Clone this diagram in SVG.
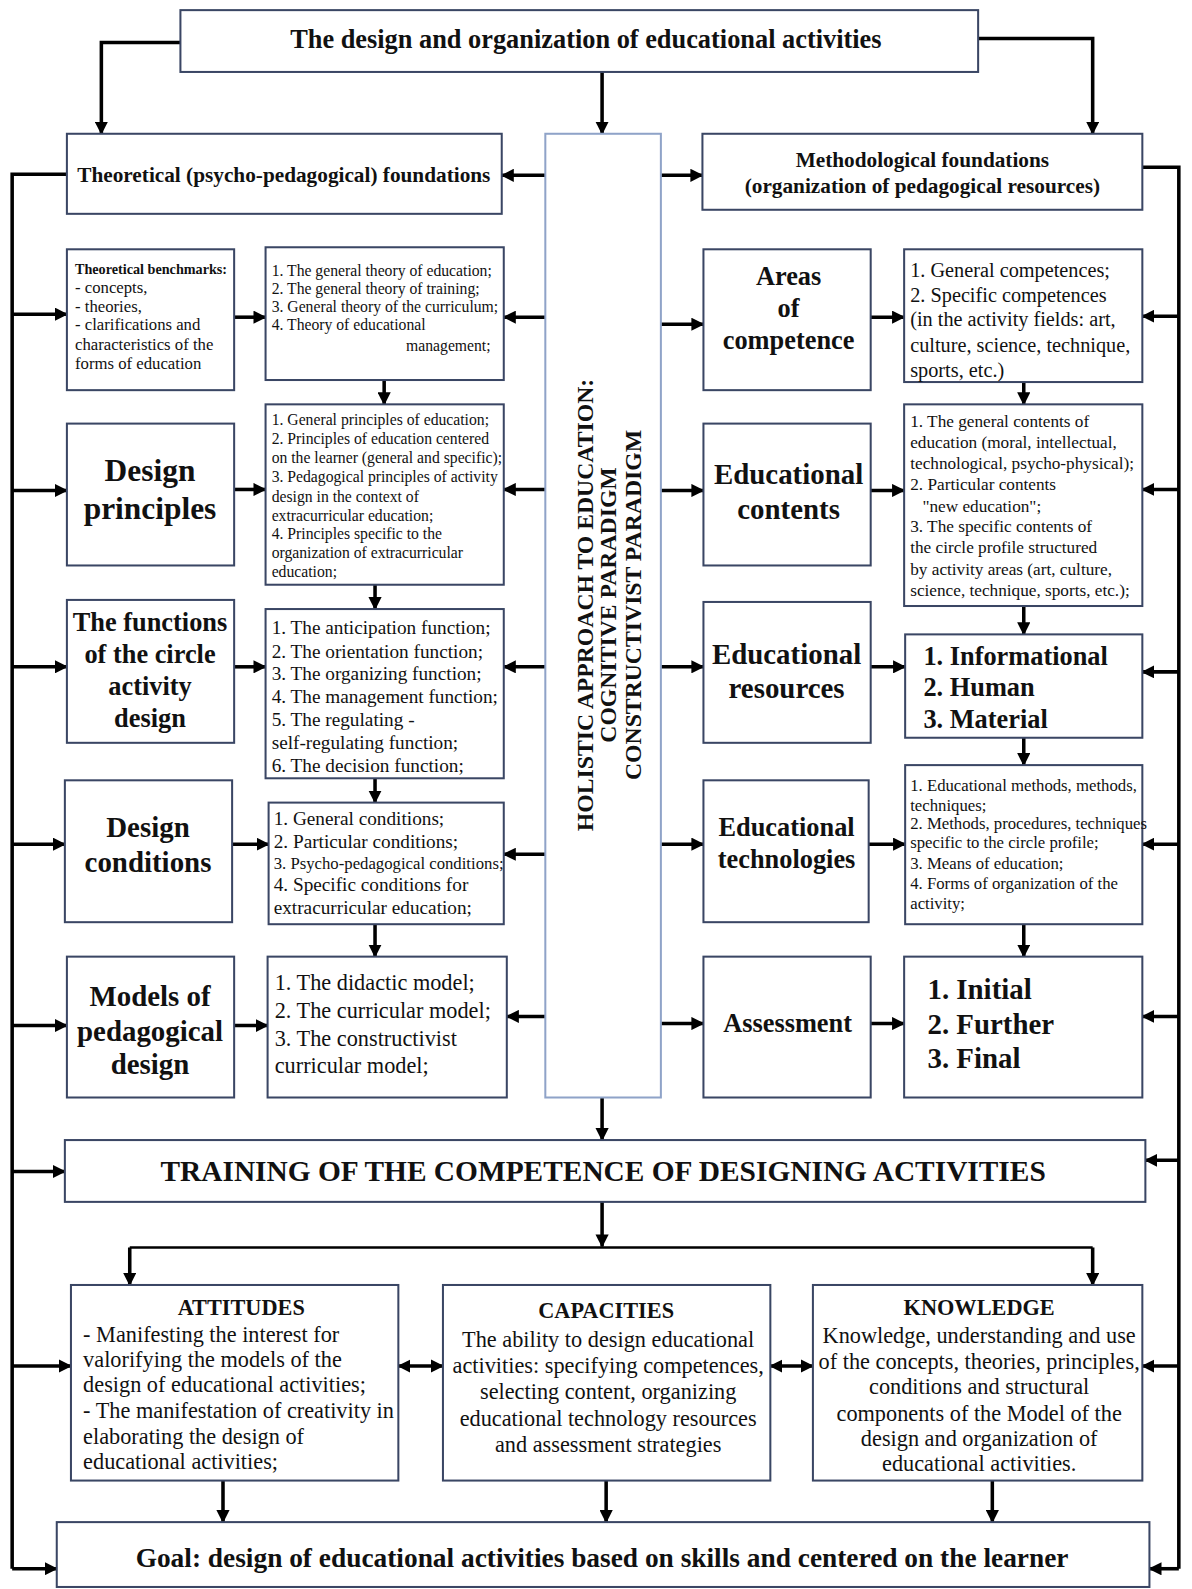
<svg xmlns="http://www.w3.org/2000/svg" width="1192" height="1589" viewBox="0 0 1192 1589">
<defs>
<style>
.box{fill:#fff;stroke:#3a4664;stroke-width:2}
.cbox{fill:#fff;stroke:#8fa3c8;stroke-width:2}
text{font-family:"Liberation Serif","Times New Roman",serif;fill:#111}
.b{font-weight:bold}
.c{text-anchor:middle}
.e{text-anchor:end}
.ln{stroke:#000;stroke-width:3.5;fill:none;marker-end:url(#ah)}
.dl{stroke:#000;stroke-width:3.5;fill:none;marker-end:url(#ah);marker-start:url(#ah)}
.bus{stroke:#000;stroke-width:3.5;fill:none}
.s14{font-size:14px}.s155{font-size:15.5px}.s165{font-size:16.5px}.s17{font-size:17px}.s19{font-size:19px}.s20{font-size:20px}.s21{font-size:21px}.s22{font-size:22px}.s26{font-size:26px}.s27{font-size:27px}.s28{font-size:28.5px}.s29{font-size:29px}.s31{font-size:31px}
</style>
<marker id="ah" viewBox="0 0 12 12" refX="11" refY="6" markerWidth="13" markerHeight="13" markerUnits="userSpaceOnUse" orient="auto-start-reverse"><path d="M0,0 L12,6 L0,12 z" fill="#000"/></marker>
</defs>
<rect width="1192" height="1589" fill="#fff"/>
<g transform="scale(1.01361 1.01339)">
<g id="connectors">
<path class="ln" d="M178,42 H100 V132"/>
<path class="ln" d="M594,71 V132"/>
<path class="ln" d="M965,38 H1078 V132"/>
<path class="ln" d="M538,173 H495"/>
<path class="ln" d="M652,173 H693"/>
<path class="bus" d="M66,172 H12 V1548"/>
<path class="bus" d="M1127,165 H1163 V1548"/>
<path class="ln" d="M12,310 H66"/>
<path class="ln" d="M231,313 H262"/>
<path class="ln" d="M538,313 H497"/>
<path class="ln" d="M379,375 V399"/>
<path class="ln" d="M12,484 H66"/>
<path class="ln" d="M231,483 H262"/>
<path class="ln" d="M538,483 H497"/>
<path class="ln" d="M370,577 V601"/>
<path class="ln" d="M12,658 H66"/>
<path class="ln" d="M231,658 H262"/>
<path class="ln" d="M538,658 H497"/>
<path class="ln" d="M370,768 V792"/>
<path class="ln" d="M12,833 H64"/>
<path class="ln" d="M229,833 H265"/>
<path class="ln" d="M538,843 H497"/>
<path class="ln" d="M370,912 V944"/>
<path class="ln" d="M12,1012 H66"/>
<path class="ln" d="M231,1012 H264"/>
<path class="ln" d="M538,1003 H500"/>
<path class="ln" d="M652,320 H694"/>
<path class="ln" d="M859,313 H892"/>
<path class="ln" d="M1163,312 H1127"/>
<path class="ln" d="M1010,377 V399"/>
<path class="ln" d="M652,484 H694"/>
<path class="ln" d="M859,484 H892"/>
<path class="ln" d="M1163,483 H1127"/>
<path class="ln" d="M1010,598 V626"/>
<path class="ln" d="M652,658 H694"/>
<path class="ln" d="M859,658 H893"/>
<path class="ln" d="M1163,663 H1127"/>
<path class="ln" d="M1010,728 V755"/>
<path class="ln" d="M652,833 H694"/>
<path class="ln" d="M857,833 H893"/>
<path class="ln" d="M1163,833 H1127"/>
<path class="ln" d="M1010,912 V944"/>
<path class="ln" d="M652,1010 H694"/>
<path class="ln" d="M859,1010 H892"/>
<path class="ln" d="M1163,1003 H1127"/>
<path class="ln" d="M594,1083 V1125"/>
<path class="ln" d="M12,1156 H64"/>
<path class="ln" d="M1163,1145 H1130"/>
<path class="ln" d="M594,1186 V1230"/>
<path class="bus" style="stroke-width:2.5" d="M128,1231 H1078"/>
<path class="ln" d="M128,1231 V1268"/>
<path class="ln" d="M1078,1231 V1268"/>
<path class="dl" d="M393,1348 H437"/>
<path class="dl" d="M760,1348 H802"/>
<path class="ln" d="M12,1348 H70"/>
<path class="ln" d="M1163,1348 H1127"/>
<path class="ln" d="M220,1461 V1502"/>
<path class="ln" d="M598,1461 V1502"/>
<path class="ln" d="M979,1461 V1502"/>
<path class="ln" d="M12,1548 H56"/>
<path class="ln" d="M1163,1548 H1134"/>
</g>

<g id="top">
<rect class="box" x="178" y="10" width="787" height="61"/>
<text class="b c s26" x="578" y="47">The design and organization of educational activities</text>
</g>

<g id="theoretical">
<rect class="box" x="66" y="132" width="429" height="79"/>
<text class="b c s21" x="280" y="180">Theoretical (psycho-pedagogical) foundations</text>
</g>

<g id="methodological">
<rect class="box" x="693" y="132" width="434" height="75"/>
<text class="b c s21" x="910" y="165">Methodological foundations</text>
<text class="b c s21" x="910" y="190">(organization of pedagogical resources)</text>
</g>

<g id="central">
<rect class="cbox" x="538" y="132" width="114" height="951"/>
<text class="b c" style="font-size:23.4px" transform="translate(585,597) rotate(-90)">HOLISTIC APPROACH TO EDUCATION:</text>
<text class="b c" style="font-size:23.4px" transform="translate(608,597) rotate(-90)">COGNITIVE PARADIGM</text>
<text class="b c" style="font-size:23.4px" transform="translate(632,597) rotate(-90)">CONSTRUCTIVIST PARADIGM</text>
</g>

<g id="benchmarks">
<rect class="box" x="66" y="246" width="165" height="139"/>
<text class="b s14" x="74" y="270">Theoretical benchmarks:</text>
<text class="s165" x="74" y="289">- concepts,</text>
<text class="s165" x="74" y="308">- theories,</text>
<text class="s165" x="74" y="326">- clarifications and</text>
<text class="s165" x="74" y="345">characteristics of the</text>
<text class="s165" x="74" y="364">forms of education</text>
</g>

<g id="theories">
<rect class="box" x="262" y="244" width="235" height="131"/>
<text class="s155" x="268" y="272">1. The general theory of education;</text>
<text class="s155" x="268" y="290">2. The general theory of training;</text>
<text class="s155" x="268" y="308">3. General theory of the curriculum;</text>
<text class="s155" x="268" y="326">4. Theory of educational</text>
<text class="s155 e" x="484" y="346">management;</text>
</g>

<g id="design-principles">
<rect class="box" x="66" y="418" width="165" height="140"/>
<text class="b c s31" x="148" y="475">Design</text>
<text class="b c s31" x="148" y="512">principles</text>
</g>

<g id="principles-list">
<rect class="box" x="262" y="399" width="235" height="178"/>
<text class="s155" x="268" y="419">1. General principles of education;</text>
<text class="s155" x="268" y="438">2. Principles of education centered</text>
<text class="s155" x="268" y="457">on the learner (general and specific);</text>
<text class="s155" x="268" y="476">3. Pedagogical principles of activity</text>
<text class="s155" x="268" y="495">design in the context of</text>
<text class="s155" x="268" y="514">extracurricular education;</text>
<text class="s155" x="268" y="532">4. Principles specific to the</text>
<text class="s155" x="268" y="551">organization of extracurricular</text>
<text class="s155" x="268" y="569">education;</text>
</g>

<g id="functions">
<rect class="box" x="66" y="592" width="165" height="141"/>
<text class="b c s26" x="148" y="623">The functions</text>
<text class="b c s26" x="148" y="654">of the circle</text>
<text class="b c s26" x="148" y="686">activity</text>
<text class="b c s26" x="148" y="717">design</text>
</g>

<g id="functions-list">
<rect class="box" x="262" y="601" width="235" height="167"/>
<text class="s19" x="268" y="626">1. The anticipation function;</text>
<text class="s19" x="268" y="649">2. The orientation function;</text>
<text class="s19" x="268" y="671">3. The organizing function;</text>
<text class="s19" x="268" y="694">4. The management function;</text>
<text class="s19" x="268" y="716">5. The regulating -</text>
<text class="s19" x="268" y="739">self-regulating function;</text>
<text class="s19" x="268" y="762">6. The decision function;</text>
</g>

<g id="design-conditions">
<rect class="box" x="64" y="770" width="165" height="140"/>
<text class="b c s28" x="146" y="826">Design</text>
<text class="b c s28" x="146" y="860">conditions</text>
</g>

<g id="conditions-list">
<rect class="box" x="265" y="792" width="232" height="120"/>
<text class="s19" x="270" y="814">1. General conditions;</text>
<text class="s19" x="270" y="837">2. Particular conditions;</text>
<text class="s165" x="270" y="858">3. Psycho-pedagogical conditions;</text>
<text class="s19" x="270" y="879">4. Specific conditions for</text>
<text class="s19" x="270" y="902">extracurricular education;</text>
</g>

<g id="models">
<rect class="box" x="66" y="944" width="165" height="139"/>
<text class="b c s28" x="148" y="993">Models of</text>
<text class="b c s28" x="148" y="1027">pedagogical</text>
<text class="b c s28" x="148" y="1060">design</text>
</g>

<g id="models-list">
<rect class="box" x="264" y="944" width="236" height="139"/>
<text class="s22" x="271" y="977">1. The didactic model;</text>
<text class="s22" x="271" y="1005">2. The curricular model;</text>
<text class="s22" x="271" y="1032">3. The constructivist</text>
<text class="s22" x="271" y="1059">curricular model;</text>
</g>

<g id="areas">
<rect class="box" x="694" y="246" width="165" height="139"/>
<text class="b c s26" x="778" y="281">Areas</text>
<text class="b c s26" x="778" y="313">of</text>
<text class="b c s26" x="778" y="344">competence</text>
</g>

<g id="competences-list">
<rect class="box" x="892" y="246" width="235" height="131"/>
<text class="s20" x="898" y="273">1. General competences;</text>
<text class="s20" x="898" y="298">2. Specific competences</text>
<text class="s20" x="898" y="322">(in the activity fields: art,</text>
<text class="s20" x="898" y="347">culture, science, technique,</text>
<text class="s20" x="898" y="372">sports, etc.)</text>
</g>

<g id="contents">
<rect class="box" x="694" y="418" width="165" height="140"/>
<text class="b c s28" x="778" y="478">Educational</text>
<text class="b c s28" x="778" y="512">contents</text>
</g>

<g id="contents-list">
<rect class="box" x="892" y="399" width="235" height="199"/>
<text class="s17" x="898" y="421">1. The general contents of</text>
<text class="s17" x="898" y="442">education (moral, intellectual,</text>
<text class="s17" x="898" y="463">technological, psycho-physical);</text>
<text class="s17" x="898" y="484">2. Particular contents</text>
<text class="s17" x="910" y="505">"new education";</text>
<text class="s17" x="898" y="525">3. The specific contents of</text>
<text class="s17" x="898" y="546">the circle profile structured</text>
<text class="s17" x="898" y="567">by activity areas (art, culture,</text>
<text class="s17" x="898" y="588">science, technique, sports, etc.);</text>
</g>

<g id="resources">
<rect class="box" x="694" y="594" width="165" height="139"/>
<text class="b c s28" x="776" y="655">Educational</text>
<text class="b c s28" x="776" y="689">resources</text>
</g>

<g id="resources-list">
<rect class="box" x="893" y="626" width="234" height="102"/>
<text class="b s26" x="911" y="656">1. Informational</text>
<text class="b s26" x="911" y="687">2. Human</text>
<text class="b s26" x="911" y="718">3. Material</text>
</g>

<g id="technologies">
<rect class="box" x="694" y="770" width="163" height="140"/>
<text class="b c s26" x="776" y="825">Educational</text>
<text class="b c s26" x="776" y="857">technologies</text>
</g>

<g id="technologies-list">
<rect class="box" x="893" y="755" width="234" height="157"/>
<text class="s165" x="898" y="781">1. Educational methods, methods,</text>
<text class="s165" x="898" y="800">techniques;</text>
<text class="s165" x="898" y="818">2. Methods, procedures, techniques</text>
<text class="s165" x="898" y="837">specific to the circle profile;</text>
<text class="s165" x="898" y="858">3. Means of education;</text>
<text class="s165" x="898" y="877">4. Forms of organization of the</text>
<text class="s165" x="898" y="897">activity;</text>
</g>

<g id="assessment">
<rect class="box" x="694" y="944" width="165" height="139"/>
<text class="b c s26" x="777" y="1018">Assessment</text>
</g>

<g id="assessment-list">
<rect class="box" x="892" y="944" width="235" height="139"/>
<text class="b s28" x="915" y="986">1. Initial</text>
<text class="b s28" x="915" y="1020">2. Further</text>
<text class="b s28" x="915" y="1054">3. Final</text>
</g>

<g id="training">
<rect class="box" x="64" y="1125" width="1066" height="61"/>
<text class="b c s29" x="595" y="1165">TRAINING OF THE COMPETENCE OF DESIGNING ACTIVITIES</text>
</g>

<g id="attitudes">
<rect class="box" x="70" y="1268" width="323" height="193"/>
<text class="b c s22" x="238" y="1298">ATTITUDES</text>
<text class="s22" x="82" y="1324">- Manifesting the interest for</text>
<text class="s22" x="82" y="1349">valorifying the models of the</text>
<text class="s22" x="82" y="1374">design of educational activities;</text>
<text class="s22" x="82" y="1399">- The manifestation of creativity in</text>
<text class="s22" x="82" y="1425">elaborating the design of</text>
<text class="s22" x="82" y="1450">educational activities;</text>
</g>

<g id="capacities">
<rect class="box" x="437" y="1268" width="323" height="193"/>
<text class="b c s22" x="598" y="1301">CAPACITIES</text>
<text class="c s22" x="600" y="1329">The ability to design educational</text>
<text class="c s22" x="600" y="1355">activities: specifying competences,</text>
<text class="c s22" x="600" y="1381">selecting content, organizing</text>
<text class="c s22" x="600" y="1407">educational technology resources</text>
<text class="c s22" x="600" y="1433">and assessment strategies</text>
</g>

<g id="knowledge">
<rect class="box" x="802" y="1268" width="325" height="193"/>
<text class="b c s22" x="966" y="1298">KNOWLEDGE</text>
<text class="c s22" x="966" y="1325">Knowledge, understanding and use</text>
<text class="c s22" x="966" y="1351">of the concepts, theories, principles,</text>
<text class="c s22" x="966" y="1376">conditions and structural</text>
<text class="c s22" x="966" y="1402">components of the Model of the</text>
<text class="c s22" x="966" y="1427">design and organization of</text>
<text class="c s22" x="966" y="1452">educational activities.</text>
</g>

<g id="goal">
<rect class="box" x="56" y="1502" width="1078" height="64"/>
<text class="b c s27" x="594" y="1546">Goal: design of educational activities based on skills and centered on the learner</text>
</g>
</g>
</svg>
